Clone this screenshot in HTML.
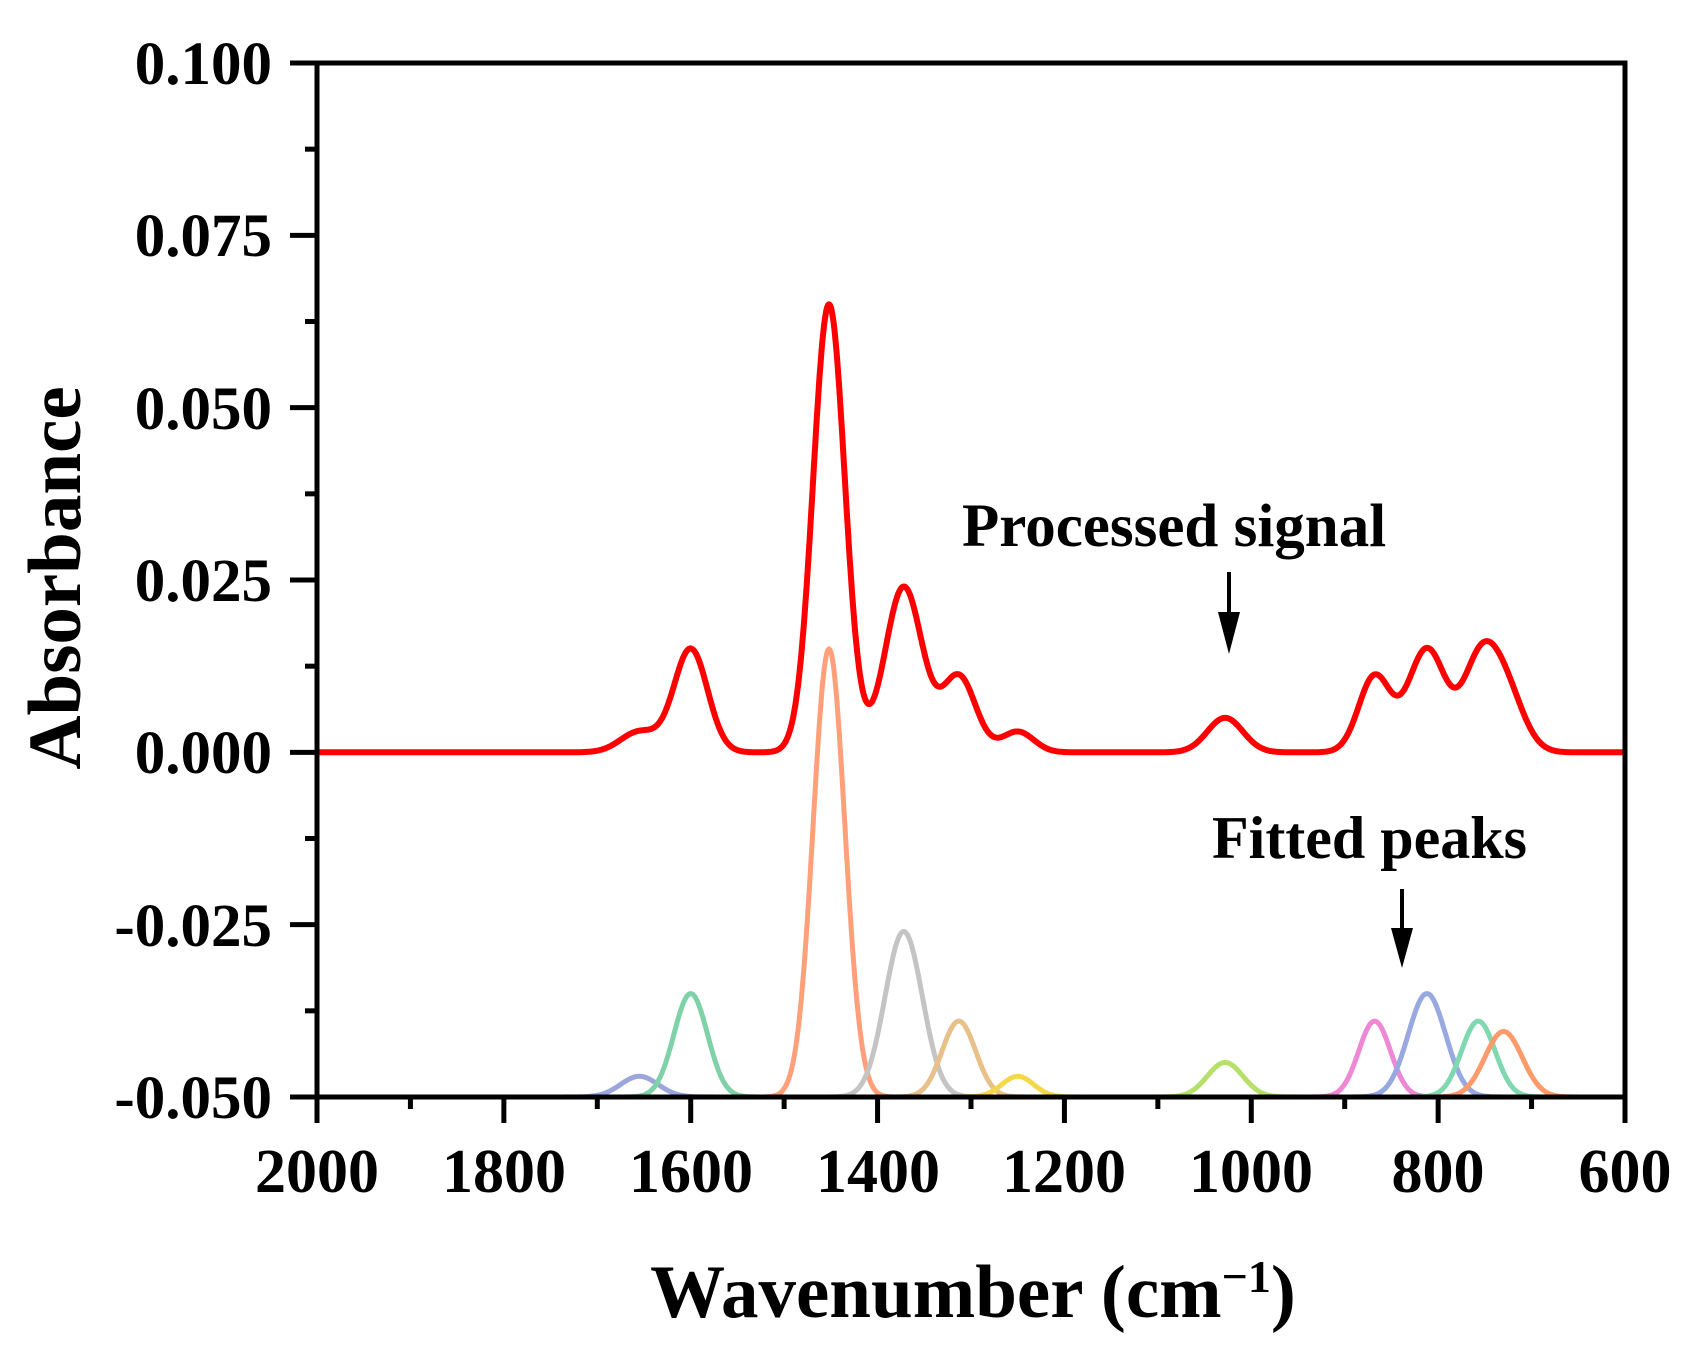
<!DOCTYPE html>
<html><head><meta charset="utf-8"><style>
html,body{margin:0;padding:0;background:#fff;}
svg{display:block;}
text{font-family:"Liberation Serif","Times New Roman",serif;font-weight:bold;fill:#000;}
</style></head><body>
<svg id="s" width="1704" height="1362" viewBox="0 0 1704 1362" xmlns="http://www.w3.org/2000/svg">
<g id="curves" fill="none" stroke-linejoin="round"></g>
<g stroke="#000" stroke-width="5" fill="none" stroke-linecap="square">
<rect x="317" y="63" width="1308" height="1034"/>
</g>
<g id="ticks" stroke="#000" stroke-width="5"></g>
<g font-size="61" text-anchor="end">
<text x="272" y="84">0.100</text>
<text x="272" y="256">0.075</text>
<text x="272" y="429">0.050</text>
<text x="272" y="601">0.025</text>
<text x="272" y="773">0.000</text>
<text x="272" y="946">-0.025</text>
<text x="272" y="1118">-0.050</text>
</g>
<g font-size="62" text-anchor="middle">
<text x="317" y="1192">2000</text>
<text x="504" y="1192">1800</text>
<text x="691" y="1192">1600</text>
<text x="878" y="1192">1400</text>
<text x="1064" y="1192">1200</text>
<text x="1251" y="1192">1000</text>
<text x="1438" y="1192">800</text>
<text x="1625" y="1192">600</text>
</g>
<text x="973" y="1317" font-size="75" text-anchor="middle">Wavenumber (cm<tspan baseline-shift="super" font-size="46">−1</tspan>)</text>
<text transform="translate(80,578) rotate(-90)" font-size="75" text-anchor="middle">Absorbance</text>
<text x="962" y="546" font-size="61">Processed signal</text>
<text x="1212" y="858" font-size="60">Fitted peaks</text>
<g stroke="#000" stroke-width="4"><line x1="1229" y1="572" x2="1229" y2="630"/><line x1="1402" y1="889" x2="1402" y2="945"/></g>
<polygon points="1218,612 1240,612 1229,654" fill="#000"/>
<polygon points="1391,928 1413,928 1402,968" fill="#000"/>
</svg>
<script>
var X=function(w){return 317+(2000-w)*1308/1400;};
var Y=function(a){return 752.3-a*6893;};
var pk=[[1655,0.003,20,'#9aa6dc'],[1600,0.015,18,'#7fd1a8'],[1452,0.065,17,'#ffa07a'],[1372,0.024,20,'#c4c4c4'],[1313,0.011,18,'#e8c08a'],[1250,0.003,17,'#f5d84a'],[1028,0.005,19,'#b6e06a'],[868,0.011,17,'#ee88d4'],[812,0.015,20,'#98a8e0'],[757,0.011,18,'#80d8b0'],[730,0.0095,20,'#ff9a6a']];
var g=document.getElementById('curves'),NS='http://www.w3.org/2000/svg';
function path(d,c,w){var p=document.createElementNS(NS,'path');p.setAttribute('d',d);p.setAttribute('stroke',c);p.setAttribute('stroke-width',w);g.appendChild(p);}
path('M317 1097 L1625 1097','#ffa07a',5);
pk.forEach(function(p){var d='';for(var w=p[0]+4*p[2];w>=p[0]-4*p[2];w-=1){var a=-0.05+p[1]*Math.exp(-Math.pow((w-p[0])/p[2],2)/2);d+=(d?'L':'M')+X(w).toFixed(1)+' '+Y(a).toFixed(1);}path(d,p[3],5);});
var d='';for(var w=2000;w>=600;w-=1){var s=0;pk.forEach(function(p){s+=p[1]*Math.exp(-Math.pow((w-p[0])/p[2],2)/2);});d+=(d?'L':'M')+X(w).toFixed(1)+' '+Y(s).toFixed(1);}
path(d,'#ff0000',6);
var t=document.getElementById('ticks');
function ln(x1,y1,x2,y2){var l=document.createElementNS(NS,'line');l.setAttribute('x1',x1);l.setAttribute('y1',y1);l.setAttribute('x2',x2);l.setAttribute('y2',y2);t.appendChild(l);}
for(var i=0;i<=12;i++){var y=63+i*1034/12;ln(317,y,i%2?305:290,y);}
for(var i=0;i<=14;i++){var x=317+i*1308/14;ln(x,1097,x,i%2?1109:1123);}
</script>
</body></html>
